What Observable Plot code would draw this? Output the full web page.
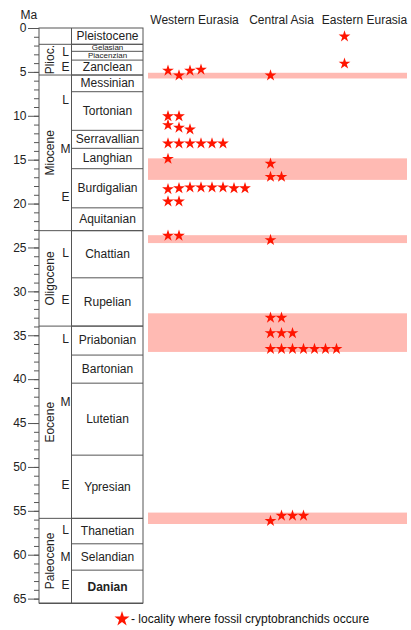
<!DOCTYPE html>
<html><head><meta charset="utf-8">
<script src="https://cdn.jsdelivr.net/npm/d3@7"></script>
<script src="https://cdn.jsdelivr.net/npm/@observablehq/plot@0.6"></script>
<style>
body{margin:0;background:#fff;font-family:"Liberation Sans",Arial,Helvetica,sans-serif}
#legend{display:flex;align-items:center;height:26px;padding-left:113px;font-size:12px;color:#111}
</style>
</head><body>
<div id="chart"></div>
<div id="legend"></div>
<script>
// ---------- DATA ----------
const stageNames = ["Pleistocene","Gelasian","Piacenzian","Zanclean","Messinian","Tortonian","Serravallian","Langhian","Burdigalian","Aquitanian","Chattian","Rupelian","Priabonian","Bartonian","Lutetian","Ypresian","Thanetian","Selandian","Danian"];
const stageBase  = [1.8, 2.6, 3.6, 5.3, 7.2, 11.6, 13.65, 15.97, 20.43, 23.03, 28.4, 33.9, 37.2, 40.4, 48.6, 55.8, 58.7, 61.7, 65.5];

const epochNames = ["", "Plioc.", "Miocene", "Oligocene", "Eocene", "Paleocene"];
const epochBase  = [1.8, 5.3, 23.03, 33.9, 55.8, 65.5];

const subEpochLabels = ["L","E","L","M","E","L","E","L","M","E","L","M","E"];
const subEpochAges   = [2.7, 4.4, 8.2, 13.7, 19.2, 25.6, 30.9, 35.4, 42.6, 52, 57.2, 60.2, 63.4];

const majorTicks = [0,5,10,15,20,25,30,35,40,45,50,55,60,65];
const minorTicks = [0,1,2,3,4,5,6,7,8,9,10,11,12,13,14,15,16,17,18,19,20,21,22,23,24,25,26,27,28,29,30,31,32,33,34,35,36,37,38,39,40,41,42,43,44,45,46,47,48,49,50,51,52,53,54,55,56,57,58,59,60,61,62,63,64,65];

const regions = ["Western Eurasia", "Central Asia", "Eastern Eurasia"];
// each inner list = one row of fossil localities (ages in Ma)
const westernRows = [
  [4.8, 5.35, 4.8, 4.7],
  [10.0, 10.0],
  [11.0, 11.3, 11.5],
  [13.1, 13.1, 13.1, 13.1, 13.1, 13.1],
  [14.85],
  [18.3, 18.2, 18.1, 18.1, 18.1, 18.1, 18.2, 18.2],
  [19.7, 19.7],
  [23.6, 23.6]
];
const centralRows = [
  [5.35],
  [15.4],
  [16.9, 16.9],
  [24.1],
  [32.95, 32.95],
  [34.7, 34.7, 34.7],
  [36.5, 36.5, 36.5, 36.5, 36.5, 36.5, 36.5],
  [56.1, 55.5, 55.5, 55.5]
];
const easternRows = [
  [0.9],
  [4.0]
];
const bandTop  = [5.1, 14.85, 23.6, 32.5, 55.2];
const bandBase = [5.75, 17.3, 24.5, 36.9, 56.5];

const legendText = "- locality where fossil cryptobranchids occure";

// ---------- LAYOUT ----------
const L = {
  epochX0: 0, epochX1: 32, stageX1: 104,
  panelX0: 109, panelX1: 368,
  epochLabelX: 11, subX: 26, stageLabelX: 68,
  regionStart: [128.5, 231, 305],
  regionHeaderX: [155, 242, 325],
  starStep: 11, minorTick: 5
};
const lineColor = "#555";
const starColor = "#ff1500";
const bandColor = "#ffbab3";
const font = '"Liberation Sans", Arial, Helvetica, sans-serif';

// ---------- TABLES ----------
const stages = stageNames.map((name, i) => ({name, top: i ? stageBase[i-1] : 0, base: stageBase[i]}));
const epochs = epochNames.map((name, i) => ({name, top: i ? epochBase[i-1] : 0, base: epochBase[i]}));
const subEpochs = subEpochLabels.map((label, i) => ({label, age: subEpochAges[i]}));
const bands = bandTop.map((t, i) => ({top: t, base: bandBase[i]}));
const maxAge = d3.max(stageBase);

const stars = [];
[westernRows, centralRows, easternRows].forEach((rows, ri) => {
  rows.forEach(row => row.forEach((age, k) => {
    stars.push({region: regions[ri], age, x: L.regionStart[ri] + k * L.starStep});
  }));
});

const chart = Plot.plot({
  width: 411, height: 606,
  marginLeft: 39, marginRight: 0, marginTop: 28, marginBottom: 3,
  x: {domain: [0, 372], axis: null},
  y: {domain: [0, maxAge], reverse: true, axis: null},
  style: {fontFamily: font, fontSize: "12px", color: "#222", background: "#fff"},
  marks: [
    Plot.rect(bands, {x1: () => L.panelX0, x2: () => L.panelX1, y1: "top", y2: "base", fill: bandColor}),
    // column frame
    Plot.rect([0], {x1: () => L.epochX0, x2: () => L.stageX1, y1: () => 0, y2: () => maxAge, fill: "none", stroke: lineColor}),
    Plot.ruleX([0], {x: () => L.epochX1, y1: () => 0, y2: () => maxAge, stroke: lineColor}),
    Plot.ruleY(stages, {y: "base", x1: () => L.epochX1, x2: () => L.stageX1, stroke: lineColor}),
    Plot.ruleY(epochs, {y: "base", x1: () => L.epochX0, x2: () => L.stageX1, stroke: lineColor}),
    // stage labels
    Plot.text(stages.filter(d => d.base - d.top >= 1.2 && d.name !== "Danian"), {
      x: () => L.stageLabelX, y: d => (d.top + d.base) / 2, text: "name", fontSize: 12, fill: "#222"}),
    Plot.text(stages.filter(d => d.name === "Danian"), {
      x: () => L.stageLabelX, y: d => (d.top + d.base) / 2, text: "name", fontSize: 12, fontWeight: "bold", fill: "#222"}),
    Plot.text(stages.filter(d => d.base - d.top < 1.2), {
      x: () => L.stageLabelX, y: d => (d.top + d.base) / 2, text: "name", fontSize: 8, fill: "#222"}),
    // epoch labels
    Plot.text(epochs.filter(d => d.name), {
      x: () => L.epochLabelX, y: d => (d.top + d.base) / 2, text: "name", rotate: -90, fontSize: 12, fill: "#222"}),
    Plot.text(subEpochs, {x: () => L.subX, y: "age", text: "label", fontSize: 12, fill: "#222"}),
    // headers
    Plot.text(regions, {x: (d, i) => L.regionHeaderX[i], frameAnchor: "top", dy: -13, text: d => d, fontSize: 12, fill: "#222"}),
    Plot.text(["Ma"], {frameAnchor: "top-left", dx: -19, dy: -18, text: d => d, fontSize: 12, fill: "#222"}),
    // axis: minor ticks and labelled major ticks
    Plot.ruleY(minorTicks, {x1: () => -L.minorTick, x2: () => 0, stroke: lineColor}),
    Plot.axisY({ticks: majorTicks, tickSize: 11, tickPadding: 2, fontSize: 12, label: null, stroke: lineColor, fill: "#222"}),
    // stars
    Plot.dot(stars, {x: "x", y: "age", symbol: "star", r: 3.7, fill: starColor})
  ]
});
document.getElementById("chart").appendChild(chart);

// legend
const leg = d3.select("#legend");
const svg = leg.append("svg").attr("width", 18).attr("height", 18);
svg.append("path").attr("transform", "translate(9,9)")
  .attr("d", d3.symbol(d3.symbolStar, 70)()).attr("fill", starColor);
leg.append("span").text(legendText);
</script>
</body></html>
